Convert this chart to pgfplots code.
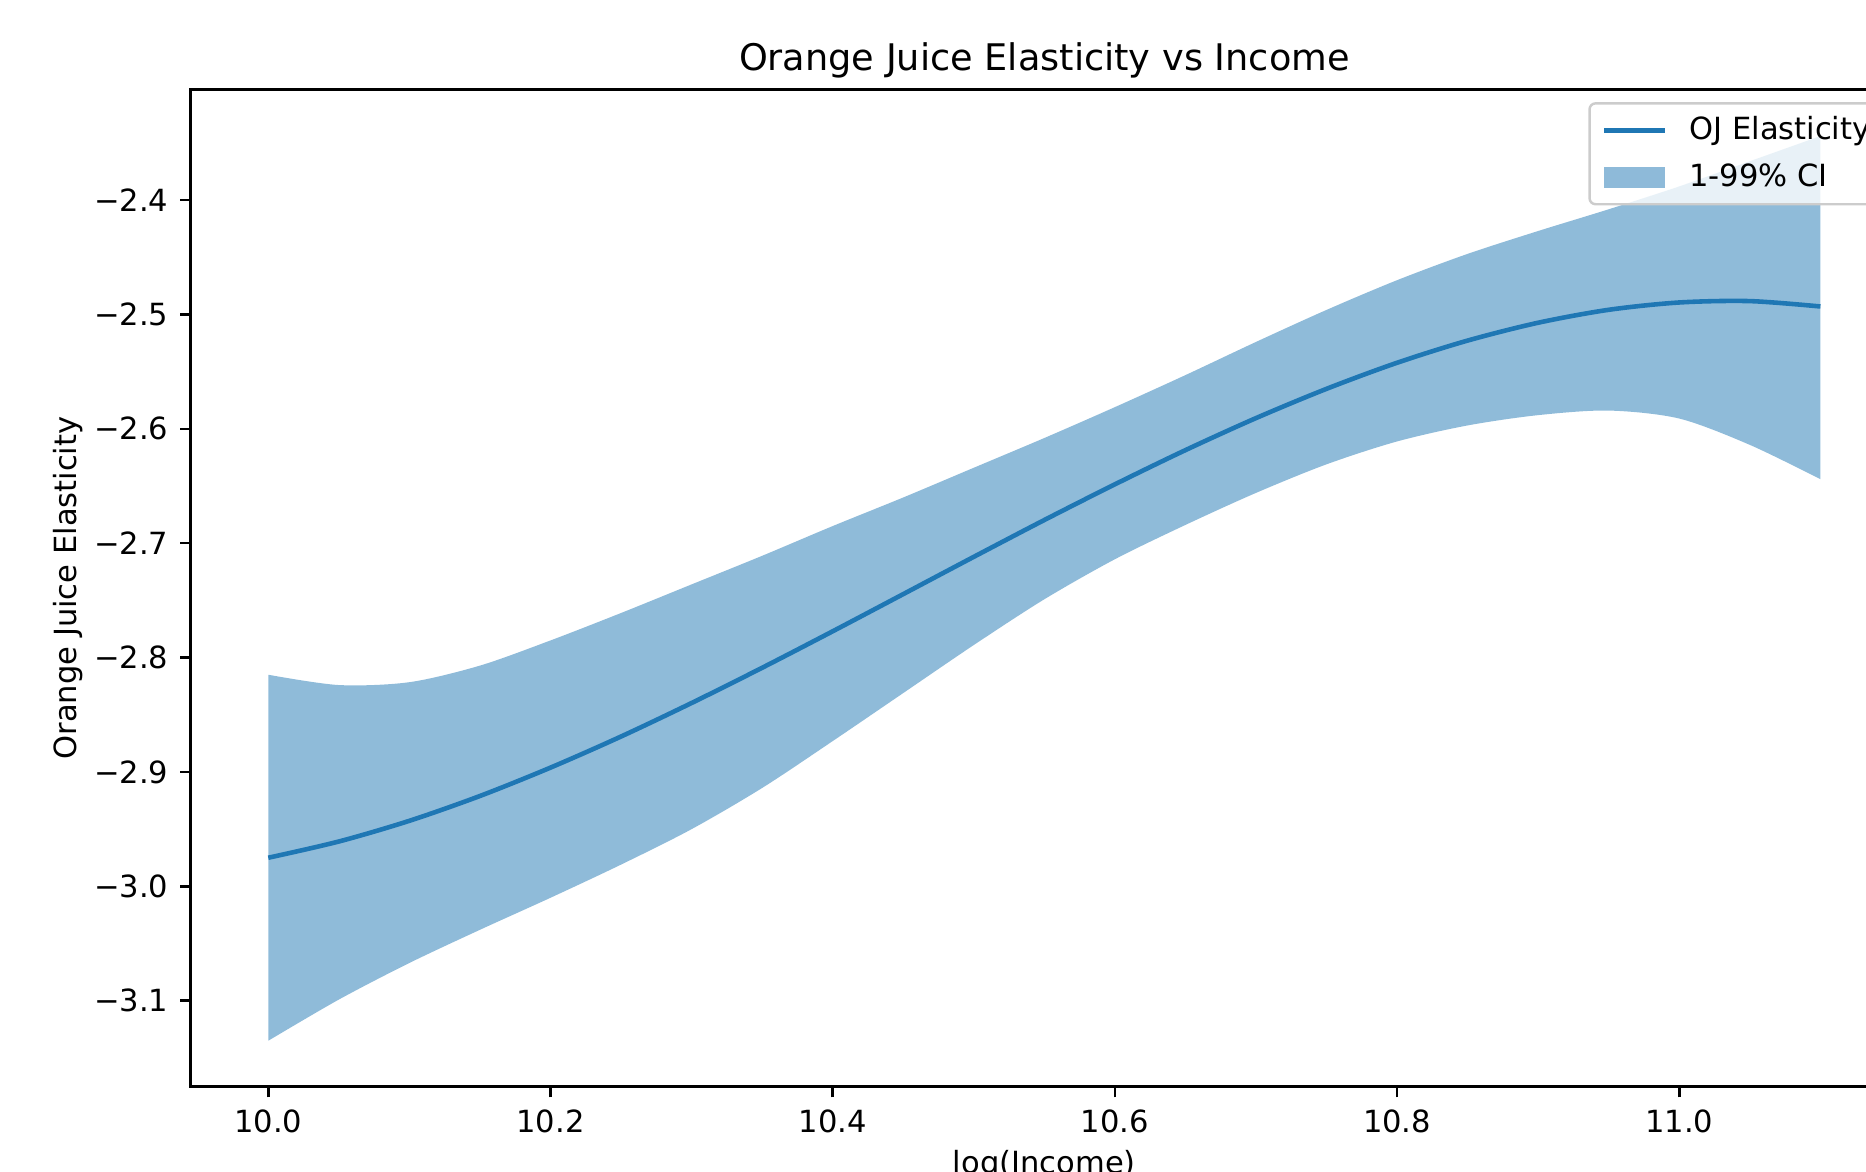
\documentclass[border=0pt]{standalone}
\usepackage{fontspec}
\setmainfont{DejaVu Sans}
\usepackage{pgfplots}
\pgfplotsset{compat=1.18}
\usepgfplotslibrary{fillbetween}
\definecolor{tabblue}{RGB}{31,119,180}
\definecolor{legedge}{RGB}{204,204,204}
\begin{document}
\begin{tikzpicture}
\begin{axis}[
  at={(0,0)}, anchor=south west,
  scale only axis, width=558.75pt, height=326.42pt,
  xmin=9.945, xmax=11.155, ymin=-3.1752, ymax=-2.3031,
  axis line style={line width=0.8pt, black},
  every tick/.style={line width=0.8pt, black},
  tick align=outside, major tick length=3.5pt,
  xtick pos=left, ytick pos=left,
  xtick={10,10.2,10.4,10.6,10.8,11.0},
  xticklabels={10.0,10.2,10.4,10.6,10.8,11.0},
  ytick={-3.1,-3.0,-2.9,-2.8,-2.7,-2.6,-2.5,-2.4},
  yticklabels={−3.1,−3.0,−2.9,−2.8,−2.7,−2.6,−2.5,−2.4},
  ticklabel style={font=\fontsize{10}{12}\selectfont},
  xticklabel style={anchor=north, inner sep=0pt, yshift=-3.9pt},
  yticklabel style={anchor=east, inner sep=0pt, xshift=-3.6pt},
  title={Orange Juice Elasticity vs Income},
  title style={at={(axis description cs:0.5,1)}, anchor=base, yshift=0pt, inner sep=0pt, font=\fontsize{12}{14}\selectfont},
  xlabel={log(Income)},
  xlabel style={at={(axis description cs:0.5,0)}, yshift=-20.7pt, anchor=north, inner sep=0pt, font=\fontsize{10}{12}\selectfont},
  ylabel={Orange Juice Elasticity},
  ylabel style={at={(axis description cs:0,0.5)}, anchor=north, yshift=45.26pt, inner sep=0pt, font=\fontsize{10}{12}\selectfont},
  legend style={at={(0,1)}, anchor=north west, xshift=457.4pt, yshift=-4.2pt,
    draw=legedge, line width=0.8pt, rounded corners=2pt,
    fill=white, fill opacity=0.8, draw opacity=1, text opacity=1,
    inner xsep=4pt, inner ysep=4.3pt, row sep=6.4pt, column sep=7.2pt,
    font=\fontsize{10}{12}\selectfont,
    nodes={inner sep=0pt}},
  legend cell align=left,
]
\addplot[tabblue, line width=1.5pt, smooth,
  legend image code/.code={\draw[tabblue, line width=1.5pt, sharp corners] (0pt,0pt) -- (20pt,0pt);}]
  coordinates {
  (10.00,-2.9750) (10.05,-2.9608) (10.10,-2.9427) (10.15,-2.9210) (10.20,-2.8962)
  (10.25,-2.8690) (10.30,-2.8397) (10.35,-2.8089) (10.40,-2.7770) (10.45,-2.7445)
  (10.50,-2.7119) (10.55,-2.6797) (10.60,-2.6485) (10.65,-2.6186) (10.70,-2.5906)
  (10.75,-2.5650) (10.80,-2.5422) (10.85,-2.5228) (10.90,-2.5072) (10.95,-2.4959)
  (11.00,-2.4895) (11.05,-2.4883) (11.10,-2.4930)};
\addlegendentry{OJ Elasticity}
\addplot[draw=none, smooth, name path=upper, forget plot] coordinates {
  (10.00,-2.815) (10.05,-2.824) (10.10,-2.8215) (10.15,-2.807) (10.20,-2.785)
  (10.25,-2.761) (10.30,-2.736) (10.35,-2.711) (10.40,-2.685) (10.45,-2.660)
  (10.50,-2.634) (10.55,-2.608) (10.60,-2.581) (10.65,-2.553) (10.70,-2.524)
  (10.75,-2.496) (10.80,-2.470) (10.85,-2.447) (10.90,-2.427) (10.95,-2.408)
  (11.00,-2.388) (11.05,-2.366) (11.10,-2.344)};
\addplot[draw=none, smooth, name path=lower, forget plot] coordinates {
  (10.00,-3.135) (10.05,-3.099) (10.10,-3.067) (10.15,-3.038) (10.20,-3.010)
  (10.25,-2.981) (10.30,-2.950) (10.35,-2.914) (10.40,-2.873) (10.45,-2.831)
  (10.50,-2.789) (10.55,-2.749) (10.60,-2.714) (10.65,-2.684) (10.70,-2.656)
  (10.75,-2.631) (10.80,-2.611) (10.85,-2.597) (10.90,-2.588) (10.95,-2.584)
  (11.00,-2.591) (11.05,-2.614) (11.10,-2.644)};
\addplot[fill=tabblue, fill opacity=0.5, draw=none,
  legend image code/.code={\fill[tabblue, fill opacity=0.5, sharp corners] (0pt,-3.5pt) rectangle (20pt,3.5pt);}]
  fill between[of=upper and lower];
\addlegendentry{1-99\% CI}
\end{axis}
\pgfresetboundingbox
\useasboundingbox (-62.41pt,-27.59pt) rectangle (548.28pt,355.65pt);
\end{tikzpicture}
\end{document}
